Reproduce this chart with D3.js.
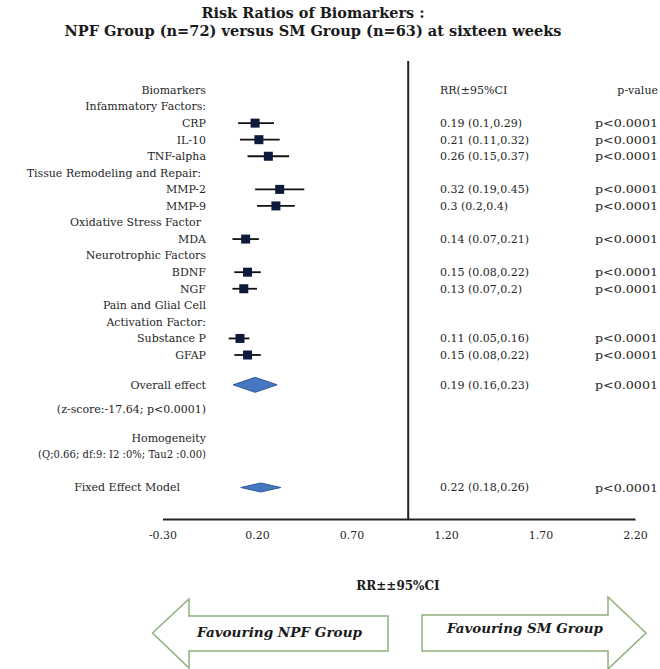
<!DOCTYPE html>
<html>
<head>
<meta charset="utf-8">
<script src="https://cdn.jsdelivr.net/npm/d3@7"></script>
<style>
  html, body { margin: 0; padding: 0; background: #fff; }
  svg { display: block; }
</style>
</head>
<body>
<script>
// ---------- DATA ----------
const titleLines = ["Risk Ratios of Biomarkers :", "NPF Group (n=72) versus SM Group (n=63) at sixteen weeks"];

// left label column, one entry per row slot
const rowLabels = ["Biomarkers", "Infammatory Factors:", "CRP", "IL-10", "TNF-alpha",
  "Tissue Remodeling and Repair:", "MMP-2", "MMP-9", "Oxidative Stress Factor", "MDA",
  "Neurotrophic Factors", "BDNF", "NGF", "Pain and Glial Cell", "Activation Factor:",
  "Substance P", "GFAP"];

const markers = ["CRP", "IL-10", "TNF-alpha", "MMP-2", "MMP-9", "MDA", "BDNF", "NGF", "Substance P", "GFAP"];
const rr      = [0.19, 0.21, 0.26, 0.32, 0.30, 0.14, 0.15, 0.13, 0.11, 0.15];
const lower   = [0.10, 0.11, 0.15, 0.19, 0.20, 0.07, 0.08, 0.07, 0.05, 0.08];
const upper   = [0.29, 0.32, 0.37, 0.45, 0.40, 0.21, 0.22, 0.20, 0.16, 0.22];
const ciText  = ["0.19 (0.1,0.29)", "0.21 (0.11,0.32)", "0.26 (0.15,0.37)", "0.32 (0.19,0.45)",
  "0.3 (0.2,0.4)", "0.14 (0.07,0.21)", "0.15 (0.08,0.22)", "0.13 (0.07,0.2)",
  "0.11 (0.05,0.16)", "0.15 (0.08,0.22)"];
const pValues = ["p<0.0001", "p<0.0001", "p<0.0001", "p<0.0001", "p<0.0001",
  "p<0.0001", "p<0.0001", "p<0.0001", "p<0.0001", "p<0.0001"];

const summaryLabels = ["Overall effect", "Fixed Effect Model"];
const summaryRR     = [0.19, 0.22];
const summaryLower  = [0.16, 0.18];
const summaryUpper  = [0.23, 0.26];
const summaryCI     = ["0.19 (0.16,0.23)", "0.22 (0.18,0.26)"];
const summaryP      = ["p<0.0001", "p<0.0001"];
const statNotes     = ["(z-score:-17.64; p<0.0001)", "Homogeneity", "(Q;0.66; df:9: I2 :0%; Tau2 :0.00)"];

const headerCI = "RR(±95%CI";
const headerP  = "p-value";
const tickValues = [-0.30, 0.20, 0.70, 1.20, 1.70, 2.20];
const nullValue = 1.0;
const axisTitle = "RR±±95%CI";
const arrowLabels = ["Favouring NPF Group", "Favouring SM Group"];

// ---------- LAYOUT ----------
const W = 660, H = 669;
const FONT = "'DejaVu Serif', 'Liberation Serif', serif";
const textColor = "#262626";

const svg = d3.select("body").append("svg").attr("width", W).attr("height", H)
  .style("font-family", FONT);

const x = d3.scaleLinear().domain([-0.30, 2.20]).range([162.5, 635]);
// row slot scale (slot index -> y centre)
const y = d3.scaleLinear().domain([0, 24]).range([90, 487.5]);
const axisY = 519;

const markerSlot = m => rowLabels.indexOf(m);
const summarySlots = [17.8, 24];
const noteSlots = [19.25, 21, 22];

// ---------- TITLE ----------
svg.selectAll("text.title").data(titleLines).join("text")
  .attr("class", "title")
  .attr("x", 313).attr("y", (d, i) => 18 + i * 18)
  .attr("text-anchor", "middle")
  .attr("font-weight", "bold").attr("font-size", 15)
  .attr("fill", "#1a1a1a")
  .attr("textLength", (d, i) => i === 0 ? 223 : 497)
  .attr("lengthAdjust", "spacingAndGlyphs")
  .text(d => d);

// ---------- LEFT LABELS ----------
const labelX = 206;
svg.append("g").selectAll("text").data(rowLabels).join("text")
  .attr("x", d => (d === "Tissue Remodeling and Repair:" || d === "Oxidative Stress Factor") ? labelX - 5 : labelX)
  .attr("y", (d, i) => y(i)).attr("dy", "0.35em")
  .attr("text-anchor", "end").attr("font-size", 11).attr("fill", textColor)
  .text(d => d);

svg.append("g").selectAll("text").data(summaryLabels).join("text")
  .attr("x", (d, i) => i === 0 ? labelX : labelX - 26)
  .attr("y", (d, i) => y(summarySlots[i])).attr("dy", "0.35em")
  .attr("text-anchor", "end").attr("font-size", 11).attr("fill", textColor)
  .text(d => d);

svg.append("g").selectAll("text").data(statNotes).join("text")
  .attr("x", labelX)
  .attr("y", (d, i) => y(noteSlots[i])).attr("dy", "0.35em")
  .attr("text-anchor", "end").attr("font-size", 11).attr("fill", textColor)
  .attr("textLength", (d, i) => i === 2 ? 168 : null)
  .attr("lengthAdjust", "spacingAndGlyphs")
  .text(d => d);

// ---------- RIGHT COLUMNS ----------
const ciX = 440, pX = 658;
svg.append("text").attr("x", ciX).attr("y", y(0)).attr("dy", "0.35em")
  .attr("font-size", 11).attr("fill", textColor).text(headerCI);
svg.append("text").attr("x", pX).attr("y", y(0)).attr("dy", "0.35em")
  .attr("text-anchor", "end").attr("font-size", 11).attr("fill", textColor).text(headerP);

const rows = markers.map((m, i) => ({ m, rr: rr[i], lo: lower[i], hi: upper[i], ci: ciText[i], p: pValues[i], slot: markerSlot(m) }));

svg.append("g").selectAll("text").data(rows).join("text")
  .attr("x", ciX).attr("y", d => y(d.slot)).attr("dy", "0.35em")
  .attr("font-size", 11).attr("fill", textColor).text(d => d.ci);
svg.append("g").selectAll("text").data(rows).join("text")
  .attr("x", pX).attr("y", d => y(d.slot)).attr("dy", "0.35em")
  .attr("text-anchor", "end").attr("font-size", 11.5).attr("fill", textColor)
  .attr("textLength", 63).attr("lengthAdjust", "spacingAndGlyphs").text(d => d.p);

const sums = summaryLabels.map((s, i) => ({ s, rr: summaryRR[i], lo: summaryLower[i], hi: summaryUpper[i], ci: summaryCI[i], p: summaryP[i], slot: summarySlots[i], hw: i === 0 ? 22 : 20, hh: i === 0 ? 7.5 : 4.5 }));
svg.append("g").selectAll("text").data(sums).join("text")
  .attr("x", ciX).attr("y", d => y(d.slot)).attr("dy", "0.35em")
  .attr("font-size", 11).attr("fill", textColor).text(d => d.ci);
svg.append("g").selectAll("text").data(sums).join("text")
  .attr("x", pX).attr("y", d => y(d.slot)).attr("dy", "0.35em")
  .attr("text-anchor", "end").attr("font-size", 11.5).attr("fill", textColor)
  .attr("textLength", 63).attr("lengthAdjust", "spacingAndGlyphs").text(d => d.p);

// ---------- AXIS ----------
const fmt = d3.format(".2f");
const axis = d3.axisBottom(x).tickValues(tickValues)
  .tickFormat(d => fmt(d).replace("\u2212", "-"))
  .tickSize(0).tickPadding(12);
const gAxis = svg.append("g").attr("transform", `translate(0,${axisY})`).call(axis);
gAxis.select(".domain").attr("stroke", "#222").attr("stroke-width", 2);
gAxis.selectAll("text").attr("font-family", FONT).attr("font-size", 11).attr("fill", textColor);

// null line
svg.append("line")
  .attr("x1", x(nullValue)).attr("x2", x(nullValue))
  .attr("y1", 61).attr("y2", axisY)
  .attr("stroke", "#222").attr("stroke-width", 2);

svg.append("text").attr("x", 398).attr("y", 586).attr("dy", "0.35em")
  .attr("text-anchor", "middle").attr("font-weight", "bold").attr("font-size", 12)
  .attr("fill", "#1a1a1a").text(axisTitle);

// ---------- MARKERS ----------
const gm = svg.append("g");
gm.selectAll("line").data(rows).join("line")
  .attr("x1", d => x(d.lo)).attr("x2", d => x(d.hi))
  .attr("y1", d => y(d.slot)).attr("y2", d => y(d.slot))
  .attr("stroke", "#111").attr("stroke-width", 1.8);
const sq = 9;
gm.selectAll("rect").data(rows).join("rect")
  .attr("x", d => x(d.rr) - sq / 2).attr("y", d => y(d.slot) - sq / 2)
  .attr("width", sq).attr("height", sq)
  .attr("fill", "#0e1a3c");

svg.append("g").selectAll("path").data(sums).join("path")
  .attr("d", d => {
    const cx = x(d.rr), cy = y(d.slot);
    return `M${cx - d.hw},${cy}L${cx},${cy - d.hh}L${cx + d.hw},${cy}L${cx},${cy + d.hh}Z`;
  })
  .attr("fill", "#4677c0").attr("stroke", "#2f5a9a").attr("stroke-width", 1);

// ---------- ARROWS ----------
const arrowColor = "#8db07a";
const leftArrow = `M152.5,633 L189,599 L189,616 L388,616 L388,651 L189,651 L189,668 Z`;
const rightArrow = `M646,633 L608,597 L608,615 L422,615 L422,651 L608,651 L608,669 Z`;
svg.append("path").attr("d", leftArrow).attr("fill", "#fff").attr("stroke", arrowColor).attr("stroke-width", 1.5);
svg.append("path").attr("d", rightArrow).attr("fill", "#fff").attr("stroke", arrowColor).attr("stroke-width", 1.5);

svg.selectAll("text.arrowlab").data(arrowLabels).join("text")
  .attr("class", "arrowlab")
  .attr("x", (d, i) => i === 0 ? 279.5 : 525)
  .attr("y", (d, i) => i === 0 ? 633 : 629).attr("dy", "0.35em")
  .attr("text-anchor", "middle")
  .attr("font-weight", "bold").attr("font-style", "italic").attr("font-size", 12.5)
  .attr("fill", "#1a1a1a")
  .attr("textLength", (d, i) => i === 0 ? 165 : 156)
  .attr("lengthAdjust", "spacingAndGlyphs")
  .text(d => d);
</script>
</body>
</html>
